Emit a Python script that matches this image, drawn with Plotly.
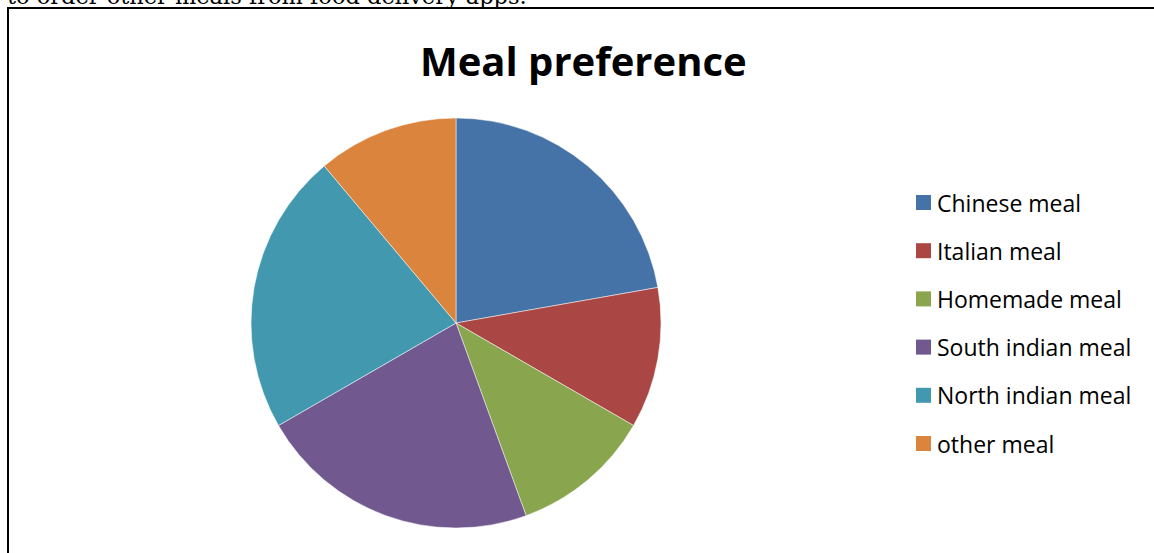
import plotly.graph_objects as go

labels = ["Chinese meal", "Italian meal", "Homemade meal", "South indian meal", "North indian meal", "other meal"]
values = [20, 10, 10, 20, 20, 10]
colors = ["#4572A7", "#AA4643", "#89A54E", "#71588F", "#4198AF", "#DB843D"]
title_text = "Meal preference"
header_text = "to order other meals from food delivery apps."

W, H = 1154, 553

fig = go.Figure()
fig.add_trace(go.Pie(
    labels=labels, values=values, sort=False, direction="clockwise", rotation=0,
    marker=dict(colors=colors, line=dict(color="white", width=0.5)),
    textinfo="none", hoverinfo="label+value+percent", showlegend=False,
    domain=dict(x=[0.2175, 0.5728], y=[0.0452, 0.7866]),
))

annotations = [
    dict(text="<b>%s</b>" % title_text, x=583 / W, y=1 - 60 / H, xref="paper", yref="paper",
         xanchor="center", yanchor="middle", showarrow=False,
         font=dict(family="Open Sans", size=40, color="black")),
    dict(text=header_text, x=5 / W, y=1, xref="paper", yref="paper",
         xanchor="left", yanchor="bottom", yshift=-11, showarrow=False,
         font=dict(family="DejaVu Serif", size=22.5, color="black")),
]
shapes = [
    dict(type="line", xref="paper", yref="paper", x0=8 / W, x1=8 / W, y0=0, y1=1 - 7 / H,
         line=dict(color="black", width=2)),
    dict(type="line", xref="paper", yref="paper", x0=7 / W, x1=1, y0=1 - 8 / H, y1=1 - 8 / H,
         line=dict(color="black", width=2)),
]

y0, dy = 202.5, 48.2
for i, (lab, col) in enumerate(zip(labels, colors)):
    yc = y0 + i * dy
    shapes.append(dict(type="rect", xref="paper", yref="paper",
                       x0=916 / W, x1=931 / W, y0=1 - (yc + 7.5) / H, y1=1 - (yc - 7.5) / H,
                       fillcolor=col, line=dict(width=0)))
    annotations.append(dict(text=lab, x=935 / W, y=1 - yc / H, xref="paper", yref="paper",
                            xanchor="left", yanchor="middle", showarrow=False,
                            font=dict(family="Open Sans", size=23, color="black")))

fig.update_layout(
    width=W, height=H, margin=dict(l=0, r=0, t=0, b=0),
    paper_bgcolor="white", plot_bgcolor="white",
    annotations=annotations, shapes=shapes,
)
fig.write_html("out.html", config={"displayModeBar": False},
               post_script="document.body.style.margin='0px';document.body.style.padding='0px';")
